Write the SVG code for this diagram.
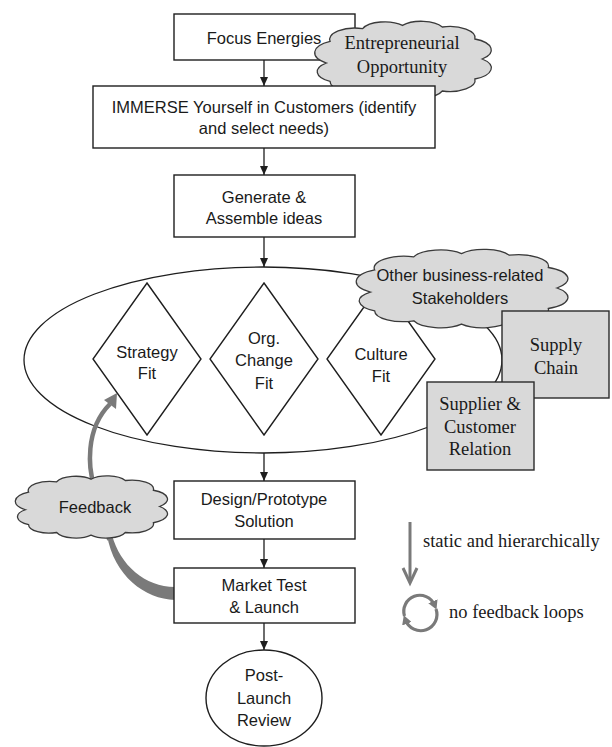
<svg xmlns="http://www.w3.org/2000/svg" width="612" height="747" viewBox="0 0 612 747">
<defs>
<style>
.box{fill:#fff;stroke:#1e1e1e;stroke-width:1.4}
.gbox{fill:#d9d9d9;stroke:#2a2a2a;stroke-width:1.4}
.cloud{fill:#d9d9d9;stroke:#3a3a3a;stroke-width:1.3}
.sans{font-family:"Liberation Sans",Arial,sans-serif;font-size:16.5px;fill:#1a1a1a;text-anchor:middle}
.serif{font-family:"Liberation Serif","Times New Roman",serif;font-size:18.5px;fill:#1a1a1a;text-anchor:middle}
.conn{stroke:#1e1e1e;stroke-width:1.3;fill:none}
.garc{stroke:#7a7a7a;stroke-width:3.2;fill:none}
</style>
<marker id="ah" markerWidth="10" markerHeight="10" refX="9" refY="5" orient="auto" markerUnits="userSpaceOnUse"><path d="M0,1 L9,5 L0,9 Z" fill="#1e1e1e"/></marker>
<marker id="gh" markerWidth="10" markerHeight="10" refX="4" refY="5" orient="auto" markerUnits="userSpaceOnUse"><path d="M0,0 L9,5 L0,10 Z" fill="#7a7a7a"/></marker>
<path id="cloudShape" vector-effect="non-scaling-stroke" d="M8,55 A16,16 0 0 1 10,28 A14,14 0 0 1 28,12 A13,13 0 0 1 50,8 A13,13 0 0 1 72,10 A14,14 0 0 1 90,25 A15,15 0 0 1 94,50 A15,15 0 0 1 90,75 A14,14 0 0 1 72,90 A13,13 0 0 1 50,94 A13,13 0 0 1 28,90 A13,13 0 0 1 10,78 A14,14 0 0 1 8,55 Z"/>
</defs>
<rect width="612" height="747" fill="#fff"/>

<g id="fit-ellipse">
<ellipse cx="263" cy="360" rx="239" ry="93" fill="#fff" stroke="#1e1e1e" stroke-width="1.3"/>
</g>
<g id="strategy-fit">
<polygon class="box" points="147,283 201,359 147,435 93,359"/>
<text class="sans" x="147" y="358">Strategy</text>
<text class="sans" x="147" y="379">Fit</text>
</g>
<g id="org-change-fit">
<polygon class="box" points="264,283 318,359 264,435 210,359"/>
<text class="sans" x="264" y="344">Org.</text>
<text class="sans" x="264" y="366">Change</text>
<text class="sans" x="264" y="389">Fit</text>
</g>
<g id="culture-fit">
<polygon class="box" points="381,283 435,359 381,435 327,359"/>
<text class="sans" x="381" y="360">Culture</text>
<text class="sans" x="381" y="382">Fit</text>
</g>

<g id="connectors">
<line class="conn" x1="264" y1="60" x2="264" y2="86" marker-end="url(#ah)"/>
<line class="conn" x1="264" y1="148" x2="264" y2="175" marker-end="url(#ah)"/>
<line class="conn" x1="264" y1="237" x2="264" y2="267" marker-end="url(#ah)"/>
<line class="conn" x1="264" y1="453" x2="264" y2="481" marker-end="url(#ah)"/>
<line class="conn" x1="264" y1="539" x2="264" y2="568" marker-end="url(#ah)"/>
<line class="conn" x1="264" y1="623" x2="264" y2="650" marker-end="url(#ah)"/>
<g id="feedback-arrow" fill="#7a7a7a">
<path d="M112,535 C120,565 145,587 175,587 L175,600 C145,599 114,576 107,535 Z"/>
<path d="M109,540 C104,520 96,500 94,480" stroke="#7a7a7a" stroke-width="4" fill="none"/>
<path d="M94,485 C89,470 84,430 110,404" stroke="#7a7a7a" stroke-width="4.5" fill="none"/>
<polygon points="117,393 104,400 116,409"/>
</g>
</g>

<g id="focus">
<rect class="box" x="174" y="14" width="181" height="46"/>
<text class="sans" x="264" y="44">Focus Energies</text>
</g>
<g id="entrepreneurial-opportunity">
<use href="#cloudShape" class="cloud" transform="translate(312,19) scale(1.81,0.8)"/>
<text class="serif" x="402" y="49">Entrepreneurial</text>
<text class="serif" x="402" y="73">Opportunity</text>
</g>
<g id="immerse">
<rect class="box" x="93" y="86" width="342" height="62"/>
<text class="sans" x="264" y="113">IMMERSE Yourself in Customers (identify</text>
<text class="sans" x="264" y="134">and select needs)</text>
</g>
<g id="generate">
<rect class="box" x="174" y="175" width="181" height="62"/>
<text class="sans" x="264" y="203">Generate &amp;</text>
<text class="sans" x="264" y="224">Assemble ideas</text>
</g>
<g id="stakeholders">
<use href="#cloudShape" class="cloud" transform="translate(353,247) scale(2.17,0.82)"/>
<text class="sans" x="460" y="281">Other business-related</text>
<text class="sans" x="460" y="304">Stakeholders</text>
</g>
<g id="supply-chain">
<rect class="gbox" x="502" y="311" width="107" height="87"/>
<text class="serif" x="556" y="351">Supply</text>
<text class="serif" x="556" y="374">Chain</text>
</g>
<g id="supplier-customer">
<rect class="gbox" x="427" y="382" width="107" height="88"/>
<text class="serif" x="480" y="410">Supplier &amp;</text>
<text class="serif" x="480" y="433">Customer</text>
<text class="serif" x="480" y="455">Relation</text>
</g>
<g id="feedback">
<use href="#cloudShape" class="cloud" transform="translate(13,474) scale(1.56,0.65)"/>
<text class="sans" x="95" y="513">Feedback</text>
</g>
<g id="design">
<rect class="box" x="174" y="481" width="181" height="58"/>
<text class="sans" x="264" y="505">Design/Prototype</text>
<text class="sans" x="264" y="527">Solution</text>
</g>
<g id="market-test">
<rect class="box" x="174" y="568" width="181" height="55"/>
<text class="sans" x="264" y="591">Market Test</text>
<text class="sans" x="264" y="613">&amp; Launch</text>
</g>
<g id="post-launch">
<ellipse class="box" cx="264" cy="698" rx="58" ry="48"/>
<text class="sans" x="264" y="681">Post-</text>
<text class="sans" x="264" y="704">Launch</text>
<text class="sans" x="264" y="726">Review</text>
</g>

<g id="legend">
<line x1="410" y1="522" x2="410" y2="582" stroke="#7a7a7a" stroke-width="3"/>
<polyline points="403,568 410,583 417,568" stroke="#7a7a7a" stroke-width="3" fill="none"/>
<text class="serif" x="423" y="547" style="text-anchor:start">static and hierarchically</text>
<path class="garc" d="M404.5,616 A16,16 0 0 1 434.5,605" marker-end="url(#gh)"/>
<path class="garc" d="M436,609 A16,16 0 0 1 405.5,620" marker-end="url(#gh)"/>
<text class="serif" x="449" y="618" style="text-anchor:start">no feedback loops</text>
</g>
</svg>
